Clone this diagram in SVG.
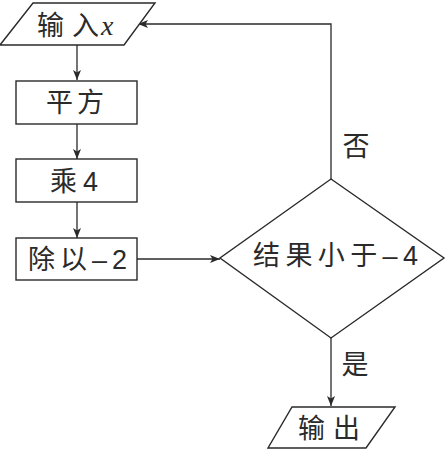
<svg xmlns="http://www.w3.org/2000/svg" width="446" height="454" viewBox="0 0 446 454">
<defs>
<marker id="ah" viewBox="0 0 10 8" refX="10" refY="4" markerWidth="10" markerHeight="8" markerUnits="userSpaceOnUse" orient="auto">
<path d="M0,0 L10,4 L0,8 L2.5,4 Z" fill="#2a2a2a"/>
</marker>
<style>
.s{fill:#fff;stroke:#2a2a2a;stroke-width:1.4}
.c{fill:none;stroke:#2a2a2a;stroke-width:1.3;marker-end:url(#ah)}
text{font-family:"Liberation Sans","Noto Sans CJK SC",sans-serif;font-size:27px;fill:#2a2a2a}
</style>
</defs>
<rect width="446" height="454" fill="#fff"/>
<g id="connectors">
<path class="c" d="M77,45 V80"/>
<path class="c" d="M77,124 V159"/>
<path class="c" d="M77,202 V238"/>
<path class="c" d="M137,259 H220"/>
<path class="c" d="M331,179 V24 H138"/>
<path class="c" d="M331,338 V406"/>
<text x="356" y="156" text-anchor="middle">否</text>
<text x="355" y="374" text-anchor="middle">是</text>
</g>
<g id="input">
<polygon class="s" points="33,3 155,3 124,45 0,45"/>
<text x="37" y="35" textLength="62" lengthAdjust="spacing">输入</text>
<text x="101" y="35" style="font-family:'Liberation Serif',serif;font-style:italic;font-size:28px">x</text>
</g>
<g id="square">
<rect class="s" x="16" y="81" width="121" height="43"/>
<text x="46" y="112" textLength="58" lengthAdjust="spacing">平方</text>
</g>
<g id="mul4">
<rect class="s" x="16" y="159" width="121" height="43"/>
<text x="50" y="191" textLength="48" lengthAdjust="spacing">乘4</text>
</g>
<g id="div">
<rect class="s" x="16" y="238" width="121" height="42"/>
<text x="28" y="269" textLength="99" lengthAdjust="spacing">除以–2</text>
</g>
<g id="decision">
<polygon class="s" points="331,179 444,258 331,338 220,258"/>
<text x="253" y="265" textLength="165" lengthAdjust="spacing">结果小于–4</text>
</g>
<g id="output">
<polygon class="s" points="292,407 395,407 366,448 268,448"/>
<text x="298" y="438" textLength="62" lengthAdjust="spacing">输出</text>
</g>
</svg>
